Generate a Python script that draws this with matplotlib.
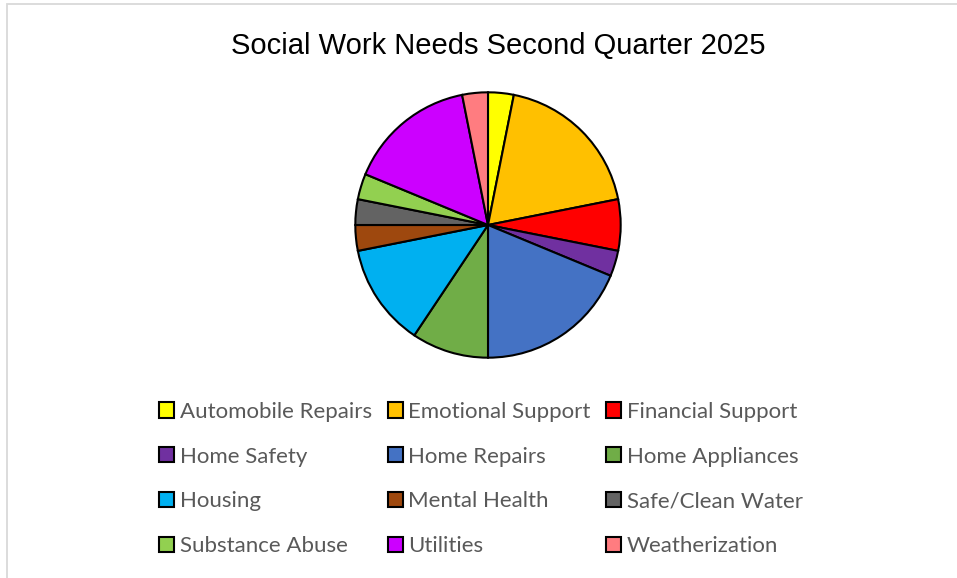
import matplotlib.pyplot as plt
from matplotlib.patches import Rectangle

# counts (unit = 1/32 of the circle)
categories = ['Automobile Repairs', 'Emotional Support', 'Financial Support',
              'Home Safety', 'Home Repairs', 'Home Appliances',
              'Housing', 'Mental Health', 'Safe/Clean Water',
              'Substance Abuse', 'Utilities', 'Weatherization']
counts = [1, 6, 2, 1, 6, 3, 4, 1, 1, 1, 5, 1]
colors = ['#FFFF00', '#FFC000', '#FF0000', '#7030A0', '#4472C4', '#70AD47',
          '#00B0F0', '#9E480E', '#636363', '#92D050', '#CC00FF', '#FF7C80']

W, H = 957, 578
fig = plt.figure(figsize=(W / 100, H / 100), dpi=100)

# light grey chart frame (top and left edges visible)
fig.patches.append(Rectangle((6.5 / W, -0.1), 1.2, 1 - 3.5 / H + 0.1,
                             transform=fig.transFigure, fill=False,
                             edgecolor='#D9D9D9', linewidth=1.3))

cx, cy, r = 488, 225, 134
ax = fig.add_axes([(cx - r) / W, (H - cy - r) / H, 2 * r / W, 2 * r / H])
wedges, _ = ax.pie(counts, colors=colors, startangle=90, counterclock=False,
                   radius=1, wedgeprops=dict(edgecolor='black', linewidth=1.5))
ax.set_xlim(-1.01, 1.01)
ax.set_ylim(-1.01, 1.01)
ax.set_aspect('equal')
ax.axis('off')

fig.text(498 / W, 1 - 46 / H, 'Social Work Needs Second Quarter 2025',
         ha='center', va='center', fontsize=21, family='Liberation Sans',
         color='black')

# legend is filled row by row in the reference
ncol = 3
order = [i for c in range(ncol) for i in range(c, len(categories), ncol)]
leg = fig.legend([wedges[i] for i in order], [categories[i] for i in order],
                 ncol=ncol, loc='center',
                 bbox_to_anchor=(481 / W, 1 - 479 / H), frameon=False,
                 prop={'family': 'Lato', 'size': 16}, labelcolor='#595959',
                 handlelength=0.68, handleheight=0.68, handletextpad=0.25,
                 columnspacing=0.7, labelspacing=1.12)

fig.savefig('out.png', dpi=100)
